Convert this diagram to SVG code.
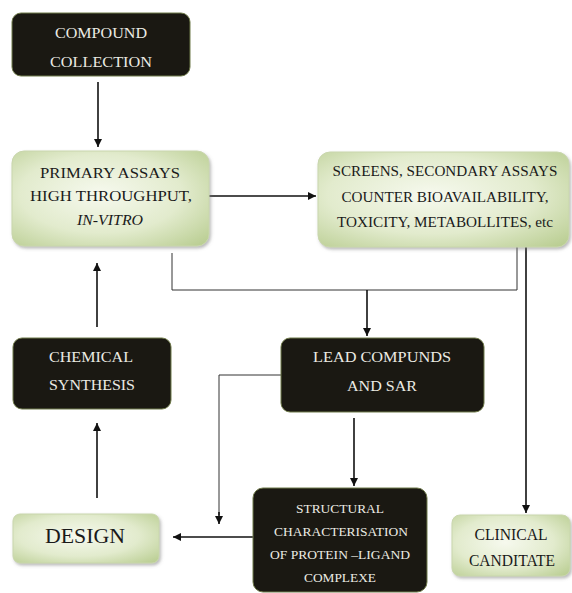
<svg xmlns="http://www.w3.org/2000/svg" width="572" height="593" viewBox="0 0 572 593" font-family="'Liberation Serif', 'DejaVu Serif', serif">
<defs>
<radialGradient id="g" cx="0.45" cy="0.45" r="0.75">
<stop offset="0" stop-color="#f6f9ee"/>
<stop offset="0.55" stop-color="#e2ebcd"/>
<stop offset="1" stop-color="#b9cd91"/>
</radialGradient>
<marker id="ah" viewBox="0 0 10 10" refX="10" refY="5" markerWidth="8" markerHeight="8" markerUnits="userSpaceOnUse" orient="auto">
<path d="M0,0 L10,5 L0,10 z" fill="#111"/>
</marker>
<filter id="sh" x="-10%" y="-10%" width="125%" height="130%">
<feDropShadow dx="1.5" dy="2" stdDeviation="1.5" flood-color="#777" flood-opacity="0.5"/>
</filter>
</defs>
<style>
.dark{fill:#1a1812;stroke:#6f7a4a;stroke-width:1}
.light{fill:url(#g);stroke:#c9d6ad;stroke-width:1;filter:url(#sh)}
text{font-family:'Liberation Serif','DejaVu Serif',serif;text-anchor:middle}
.wt{fill:#ecebe4;font-size:15px}
.bt{fill:#1a1a1a;font-size:15.5px}
.s14{font-size:14px}
.s13{font-size:13.5px}
.s16{font-size:16px}
.s22{font-size:22px}
.c{stroke:#111;stroke-width:1.6;fill:none}
.t{stroke:#333;stroke-width:1;fill:none}
</style>
<g id="connectors">
<line class="c" x1="98" y1="82" x2="98" y2="147" marker-end="url(#ah)"/>
<line class="c" x1="209" y1="196" x2="316" y2="196" marker-end="url(#ah)"/>
<polyline class="t" points="172,253 172,290 517,290 517,246"/>
<line class="c" x1="367" y1="290" x2="367" y2="336" marker-end="url(#ah)"/>
<line class="c" x1="526" y1="246" x2="526" y2="513" marker-end="url(#ah)"/>
<polyline class="t" points="281,375 219,375 219,515"/>
<line class="c" x1="219" y1="512" x2="219" y2="524" marker-end="url(#ah)"/>
<line class="c" x1="354" y1="418" x2="354" y2="486" marker-end="url(#ah)"/>
<line class="c" x1="253" y1="537" x2="173" y2="537" marker-end="url(#ah)"/>
<line class="c" x1="97" y1="498" x2="97" y2="423" marker-end="url(#ah)"/>
<line class="c" x1="97" y1="327" x2="97" y2="263" marker-end="url(#ah)"/>
</g>
<g id="compound">
<rect class="dark" x="12" y="13" width="178" height="63" rx="9"/>
<text class="wt" x="101" y="38" textLength="92" lengthAdjust="spacingAndGlyphs">COMPOUND</text>
<text class="wt" x="101" y="67" textLength="102" lengthAdjust="spacingAndGlyphs">COLLECTION</text>
</g>
<g id="primary">
<rect class="light" x="12" y="151" width="197" height="95" rx="12"/>
<text class="bt" x="110" y="178" textLength="140" lengthAdjust="spacingAndGlyphs">PRIMARY ASSAYS</text>
<text class="bt" x="111" y="201" textLength="162" lengthAdjust="spacingAndGlyphs">HIGH THROUGHPUT,</text>
<text class="bt" x="110" y="225" font-style="italic" textLength="66" lengthAdjust="spacingAndGlyphs">IN-VITRO</text>
</g>
<g id="screens">
<rect class="light" x="318" y="152" width="251" height="95" rx="12"/>
<text class="bt s14" x="445" y="176" textLength="225" lengthAdjust="spacingAndGlyphs">SCREENS, SECONDARY ASSAYS</text>
<text class="bt s14" x="445" y="202" textLength="207" lengthAdjust="spacingAndGlyphs">COUNTER BIOAVAILABILITY,</text>
<text class="bt s14" x="445" y="227" textLength="216" lengthAdjust="spacingAndGlyphs">TOXICITY, METABOLLITES, etc</text>
</g>
<g id="chemical">
<rect class="dark" x="13" y="338" width="158" height="71" rx="9"/>
<text class="wt" x="91" y="362" textLength="84" lengthAdjust="spacingAndGlyphs">CHEMICAL</text>
<text class="wt" x="92" y="390" textLength="86" lengthAdjust="spacingAndGlyphs">SYNTHESIS</text>
</g>
<g id="lead">
<rect class="dark" x="281" y="338" width="203" height="74" rx="9"/>
<text class="wt" x="382" y="362" textLength="138" lengthAdjust="spacingAndGlyphs">LEAD COMPUNDS</text>
<text class="wt" x="382" y="391" textLength="70" lengthAdjust="spacingAndGlyphs">AND SAR</text>
</g>
<g id="design">
<rect class="light" x="13" y="514" width="146" height="49" rx="7"/>
<text class="bt s22" x="85" y="543" textLength="80" lengthAdjust="spacingAndGlyphs">DESIGN</text>
</g>
<g id="structural">
<rect class="dark" x="253" y="488" width="174" height="104" rx="10"/>
<text class="wt s13" x="340" y="513" textLength="88" lengthAdjust="spacingAndGlyphs">STRUCTURAL</text>
<text class="wt s13" x="341" y="536" textLength="134" lengthAdjust="spacingAndGlyphs">CHARACTERISATION</text>
<text class="wt s13" x="340" y="559" textLength="140" lengthAdjust="spacingAndGlyphs">OF PROTEIN –LIGAND</text>
<text class="wt s13" x="340" y="582" textLength="72" lengthAdjust="spacingAndGlyphs">COMPLEXE</text>
</g>
<g id="clinical">
<rect class="light" x="452" y="515" width="118" height="61" rx="8"/>
<text class="bt s16" x="511" y="540" textLength="73" lengthAdjust="spacingAndGlyphs">CLINICAL</text>
<text class="bt s16" x="512" y="566" textLength="86" lengthAdjust="spacingAndGlyphs">CANDITATE</text>
</g>
</svg>
